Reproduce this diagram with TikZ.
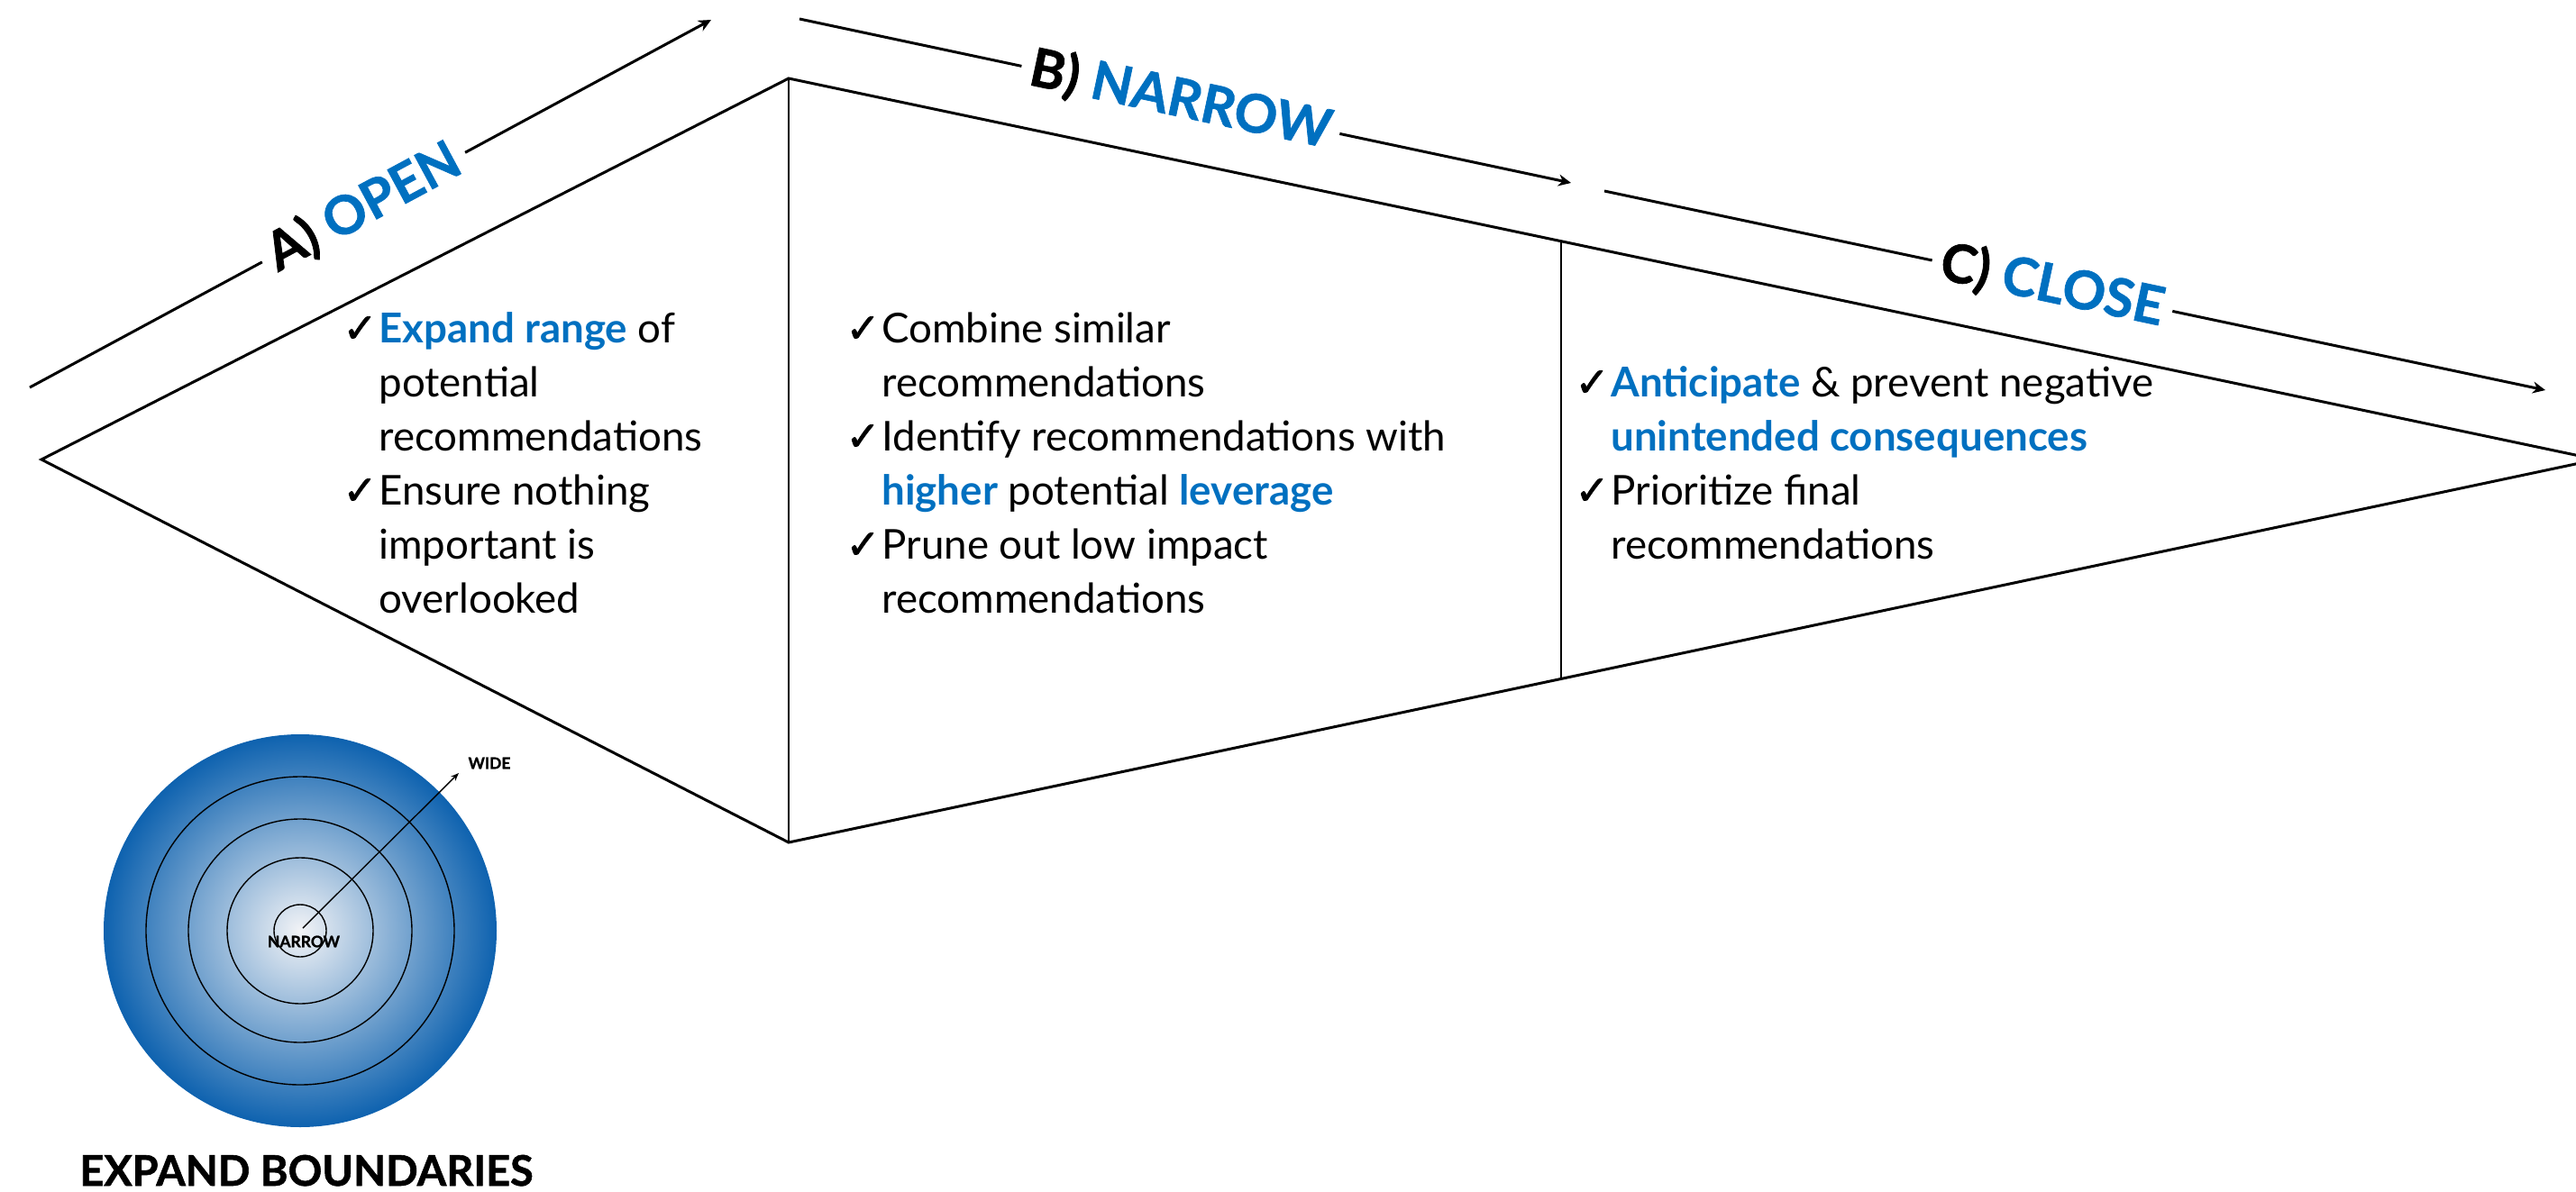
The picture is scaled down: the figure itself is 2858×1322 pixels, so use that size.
\documentclass[tikz,border=0pt]{standalone}
\usepackage{fontspec}
\setmainfont{Lato}
\newfontfamily\ckfont[FakeBold=1.6]{DejaVu Sans}
\newfontfamily\heavyfont[BoldFeatures={FakeBold=1.2}]{Lato}
\usetikzlibrary{arrows.meta,calc}
\definecolor{hl}{RGB}{0,112,192}
\definecolor{ringin}{RGB}{242,243,246}
\definecolor{ringout}{RGB}{14,98,175}
\newlength\fitw
\newcommand\fitsize[4]{\settowidth\fitw{#2\fontsize{10pt}{12pt}\selectfont #3}\pgfmathsetmacro#1{10*#4/\fitw}}
\newcommand\ck{\makebox[20pt][l]{\ckfont ✓}}
\newcommand\hb[1]{\textcolor{hl}{\bfseries #1}}
\begin{document}
\fitsize\bodysz{\normalfont}{recommendations}{179.5}%
\fitsize\hdrsz{\heavyfont\bfseries}{B) NARROW}{170}%
\fitsize\lblsz{\heavyfont\bfseries}{NARROW}{40}%
\fitsize\expsz{\heavyfont\bfseries}{EXPAND BOUNDARIES}{251.5}%
\begin{tikzpicture}[x=0.5pt,y=-0.5pt,
  edge/.style={line width=1.5pt},
  divider/.style={line width=1.3pt},
  flow/.style={line width=1.5pt},
  tip/.style={-{Stealth[length=7pt,width=6.5pt]}},
  body/.style={inner sep=0pt, anchor=base west, font=\fontsize{\bodysz pt}{\bodysz pt}\selectfont},
  hdr/.style={inner xsep=5pt, inner ysep=0pt, font=\fontsize{\hdrsz pt}{\hdrsz pt}\selectfont\heavyfont\bfseries},
  lbl/.style={inner sep=0pt, font=\fontsize{\lblsz pt}{\lblsz pt}\selectfont\heavyfont\bfseries},
  expl/.style={inner sep=0pt, anchor=base, font=\fontsize{\expsz pt}{\expsz pt}\selectfont\heavyfont\bfseries},
  ring/.style={line width=0.7pt}
]
\useasboundingbox (0,0) rectangle (2858,1322);
\clip (0,0) rectangle (2858,1322);

% diamond
\coordinate (L) at (46,510);
\coordinate (T) at (875,87);
\coordinate (B) at (875,935);
\coordinate (R) at (2881,510);
\coordinate (Dt) at ($(T)!0.4272!(R)$);
\coordinate (Db) at ($(B)!0.4272!(R)$);
\draw[edge] (L) -- (T) -- (R) -- (B) -- cycle;
\draw[divider] (T) -- (B);
\draw[divider] (Dt) -- (Db);

% flow arrows with labels
\coordinate (a0) at (33,430);
\coordinate (a1) at (789,22);
\node[hdr, rotate=28.3] (la) at ($(a0)!0.49!(a1)$) {A) \textcolor{hl}{OPEN}};
\draw[flow] (a0) -- (la);
\draw[flow,tip] (la) -- (a1);

\coordinate (b0) at (887,21);
\coordinate (b1) at (1743,203);
\node[hdr, rotate=-12] (lb) at ($(b0)!0.494!(b1)$) {B) \textcolor{hl}{NARROW}};
\draw[flow] (b0) -- (lb);
\draw[flow,tip] (lb) -- (b1);

\coordinate (c0) at (1780,212);
\coordinate (c1) at (2824,433);
\node[hdr, rotate=-12] (lc) at ($(c0)!0.476!(c1)$) {C) \textcolor{hl}{CLOSE}};
\draw[flow] (c0) -- (lc);
\draw[flow,tip] (lc) -- (c1);

% column 1
\node[body] (p1) at (380,380) {\ck\hb{Expand range} of};
\node[body] (p2) at (420,440) {potential};
\node[body] (p3) at (420,500) {recommendations};
\node[body] (p4) at (380,560) {\ck Ensure nothing};
\node[body] (p5) at (420,620) {important is};
\node[body] (p6) at (420,680) {overlooked};

% column 2
\node[body] (q1) at (938,380) {\ck Combine similar};
\node[body] (q2) at (978,440) {recommendations};
\node[body] (q3) at (938,500) {\ck Identify recommendations with};
\node[body] (q4) at (978,560) {\hb{higher} potential \hb{leverage}};
\node[body] (q5) at (938,620) {\ck Prune out low impact};
\node[body] (q6) at (978,680) {recommendations};

% column 3
\node[body] (r1) at (1747,440) {\ck\hb{Anticipate} \& prevent negative};
\node[body] (r2) at (1787,500) {\hb{unintended consequences}};
\node[body] (r3) at (1747,560) {\ck Prioritize final};
\node[body] (r4) at (1787,620) {recommendations};

% target circle
\coordinate (cc) at (333,1033);
\shade[inner color=ringin, outer color=ringout] (cc) circle[radius=218];
\draw[ring] (cc) circle[radius=171];
\draw[ring] (cc) circle[radius=124];
\draw[ring] (cc) circle[radius=81];
\draw[ring] (cc) circle[radius=29];
\coordinate (as) at (336,1030);
\coordinate (at) at (509,858);
\draw[ring,-{Stealth[length=4.5pt,width=3.5pt]}] (as) -- (at);
\node[lbl] (nar) at (337,1045) {NARROW};
\node[lbl] (wide) at (543,847) {WIDE};
\node[expl] (expb) at (340,1316) {EXPAND BOUNDARIES};
\end{tikzpicture}
\end{document}
